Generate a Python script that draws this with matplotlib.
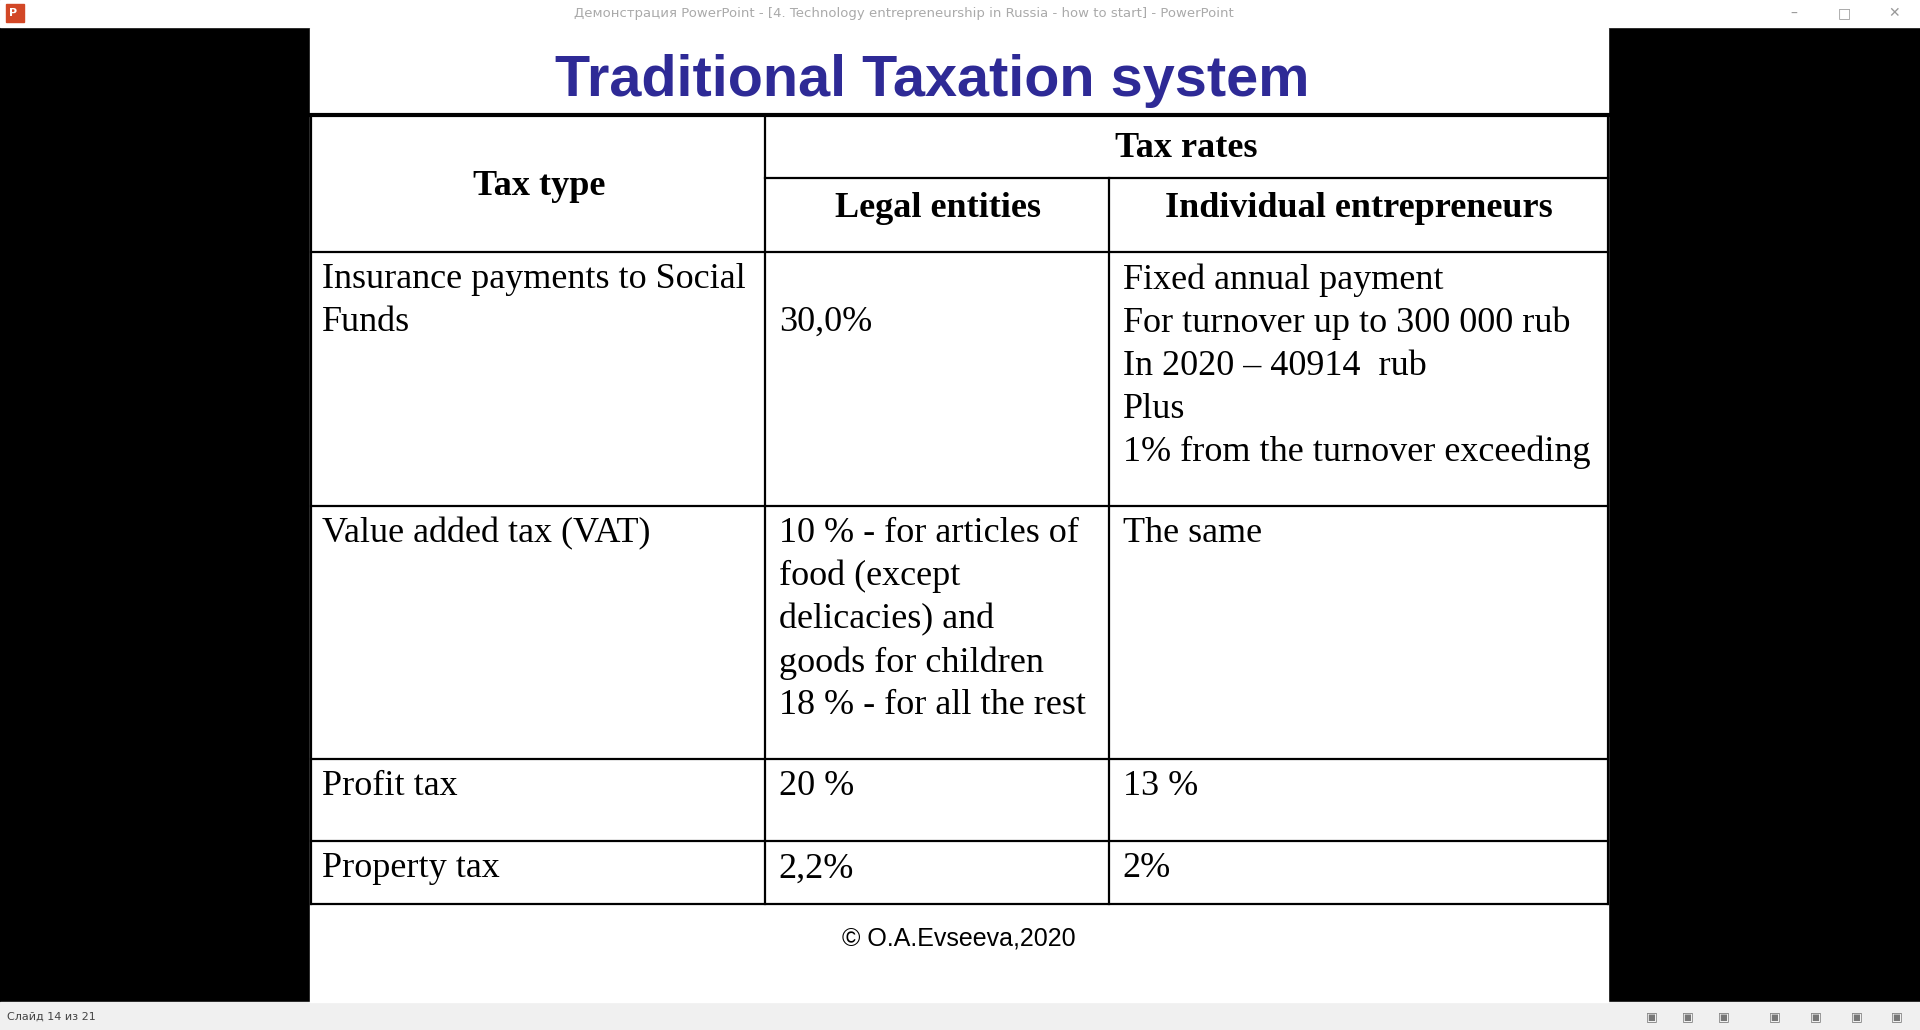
import matplotlib
matplotlib.use("Agg")
import matplotlib.pyplot as plt
from matplotlib.patches import Rectangle

title = "Traditional Taxation system"
header_main = "Tax type"
header_group = "Tax rates"
header_sub = ["Legal entities", "Individual entrepreneurs"]
tax_types = ["Insurance payments to Social\nFunds", "Value added tax (VAT)", "Profit tax", "Property tax"]
legal = ["\n30,0%", "10 % - for articles of\nfood (except\ndelicacies) and\ngoods for children\n18 % - for all the rest", "20 %", "2,2%"]
individual = ["Fixed annual payment\nFor turnover up to 300 000 rub\nIn 2020 \u2013 40914  rub\nPlus\n1% from the turnover exceeding",
              "The same", "13 %", "2%"]
footer = "\u00a9 O.A.Evseeva,2020"

W, H = 1568, 841
fig = plt.figure(figsize=(19.2, 10.3), dpi=100)
ax = fig.add_axes([0, 0, 1, 1])
ax.set_xlim(0, W); ax.set_ylim(H, 0); ax.axis("off")
fig.patch.set_facecolor("black")

# window chrome
ax.add_patch(Rectangle((0, 0), W, 22, color="#ffffff", zorder=1))
ax.add_patch(Rectangle((5, 3), 15, 15, color="#d24726", zorder=2))
ax.text(11, 11, "P", color="white", fontsize=8, ha="center", va="center", weight="bold", zorder=3)
ax.text(738, 11, "\u0414\u0435\u043c\u043e\u043d\u0441\u0442\u0440\u0430\u0446\u0438\u044f PowerPoint - [4. Technology entrepreneurship in Russia - how to start] - PowerPoint",
        color="#aaaaaa", fontsize=9.5, ha="center", va="center", family="DejaVu Sans")
for x, s in [(1465, "\u2013"), (1506, "\u25a1"), (1547, "\u2715")]:
    ax.text(x, 11, s, color="#999999", fontsize=10, ha="center", va="center")
ax.add_patch(Rectangle((0, 818), W, 23, color="#f0f0f0", zorder=1))
ax.text(6, 830, "\u0421\u043b\u0430\u0439\u0434 14 \u0438\u0437 21", color="#444444", fontsize=8, va="center")
for x in [1349, 1378, 1408, 1449, 1483, 1516, 1549]:
    ax.text(x, 830, "\u25a3", color="#777777", fontsize=9, ha="center", va="center")

# slide
ax.add_patch(Rectangle((253, 23), 1060, 795, color="white", zorder=1))
ax.text(761, 66, title, color="#2e2a96", fontsize=41.5, weight="bold", family="Liberation Sans",
        ha="center", va="center", zorder=3)

xs = [254, 625, 906, 1313]
ys = [94, 206, 413, 620, 687, 738]
lw = 1.6
for y in ys:
    ax.plot([xs[0], xs[-1]], [y, y], color="black", lw=lw, zorder=4)
ax.plot([xs[0], xs[-1]], [94, 94], color="black", lw=3, zorder=6)
ax.plot([xs[1], xs[-1]], [145, 145], color="black", lw=lw, zorder=4)
for x in [xs[0], xs[1], xs[3]]:
    ax.plot([x, x], [ys[0], ys[-1]], color="black", lw=lw, zorder=4)
ax.plot([xs[2], xs[2]], [145, ys[-1]], color="black", lw=lw, zorder=5)

serif = "Liberation Serif"
fs = 26
ax.text(440, 152, header_main, fontsize=fs, weight="bold", family=serif, ha="center", va="center", zorder=5)
ax.text(969, 121, header_group, fontsize=fs, weight="bold", family=serif, ha="center", va="center", zorder=5)
ax.text(766, 170, header_sub[0], fontsize=fs, weight="bold", family=serif, ha="center", va="center", zorder=5)
ax.text(1110, 170, header_sub[1], fontsize=fs, weight="bold", family=serif, ha="center", va="center", zorder=5)

for i in range(4):
    top = ys[i + 1] + 9
    for x, col in [(263, tax_types), (636, legal), (917, individual)]:
        ax.text(x, top, col[i], fontsize=fs, family=serif, ha="left", va="top", linespacing=1.39, zorder=5)

ax.text(783, 766, footer, fontsize=18, family="Liberation Sans", ha="center", va="center", zorder=5)
fig.savefig("out.png", dpi=100, facecolor="black")
